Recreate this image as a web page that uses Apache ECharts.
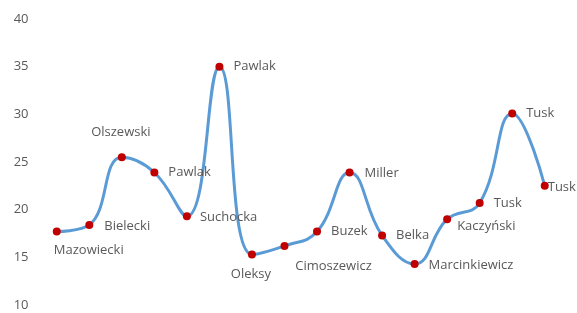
<!DOCTYPE html>
<html>
<head>
<meta charset="utf-8">
<script src="https://cdn.jsdelivr.net/npm/echarts@6/dist/echarts.min.js"></script>
<style>html,body{margin:0;padding:0;background:#fff}#c{width:577px;height:313px}</style>
</head>
<body>
<div id="c"></div>
<script>
const names = ["Mazowiecki","Bielecki","Olszewski","Pawlak","Suchocka","Pawlak","Oleksy","Cimoszewicz","Buzek","Miller","Belka","Marcinkiewicz","Kaczyński","Tusk","Tusk","Tusk"];
const values = [17.7,18.4,25.5,23.9,19.3,35.0,15.3,16.2,17.7,23.9,17.3,14.3,19.0,20.7,30.1,22.5];
const yTicks = {min:10, max:40, interval:5};

// label placement (style): [dx, dy, align]
const labelPlace = [
  [32,19,'center'],[15,1,'left'],[-1,-25,'center'],[14,0,'left'],
  [13,1,'left'],[14,0,'left'],[-1,20,'center'],[49,20,'center'],
  [14,0,'left'],[15,1,'left'],[14,0,'left'],[14,1,'left'],
  [10,7,'left'],[14,0,'left'],[14,0,'left'],[3,1,'left']
];

const FONT = 'Open Sans';
const data = values.map((v,i)=>({
  value: v,
  label: {
    show: true,
    formatter: names[i],
    position: 'inside',
    offset: [labelPlace[i][0], labelPlace[i][1]],
    align: labelPlace[i][2],
    verticalAlign: 'middle',
    color: '#595959',
    fontFamily: FONT,
    fontSize: 13
  }
}));

const chart = echarts.init(document.getElementById('c'), null, {renderer:'canvas'});
chart.setOption({
  animation: false,
  grid: {left: 40.5, right: 16, top: 19, bottom: 8, containLabel: false},
  xAxis: {
    type: 'category', data: names, boundaryGap: true,
    axisLine: {show:false}, axisTick:{show:false}, axisLabel:{show:false}, splitLine:{show:false}
  },
  yAxis: {
    type: 'value', min: yTicks.min, max: yTicks.max, interval: yTicks.interval,
    axisLine:{show:false}, axisTick:{show:false}, splitLine:{show:false},
    axisLabel:{color:'#595959', fontFamily: FONT, fontSize: 13, margin: 12}
  },
  series: [{
    type: 'line', data: data, smooth: 0.45,
    lineStyle: {color:'#5B9BD5', width: 3},
    symbol: 'circle', symbolSize: 8,
    itemStyle: {color:'#C00000'},
    z: 2
  }]
});
</script>
</body>
</html>
